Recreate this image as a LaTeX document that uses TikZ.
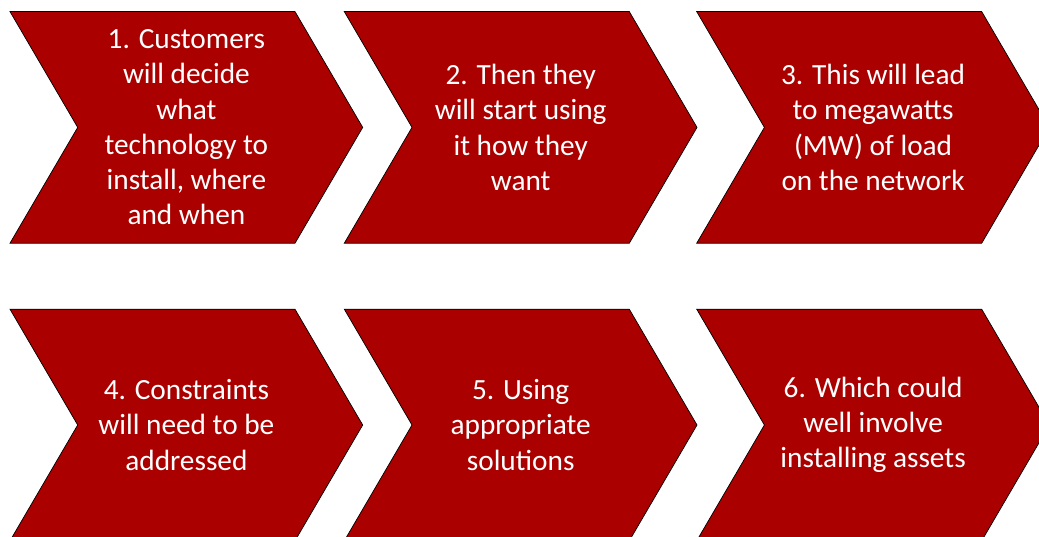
\documentclass[tikz,border=0pt]{standalone}
\usepackage{fontspec}
\setmainfont{Carlito}
\definecolor{chevred}{RGB}{170,0,0}
\begin{document}
\begin{tikzpicture}[x=1pt,y=-1pt,
  chevfill/.style={fill=chevred,draw=black,line width=0.7pt,line join=miter},
  steptext/.style={text=white,align=center,inner sep=0pt,
    font=\fontsize{29.3}{35.2}\selectfont},
  chevron/.pic={
    \path[chevfill] (0,-115.8) -- (285,-115.8) -- (352.7,0) -- (285,115.8)
      -- (0,115.8) -- (67.7,0) -- cycle;
  }]
\useasboundingbox (0,0) rectangle (1039,537);
\clip (0,0) rectangle (1039,537);

% upper row
\pic at (10,127.4) {chevron};
\pic at (344.3,127.4) {chevron};
\pic at (696.7,127.4) {chevron};
% lower row
\pic at (10,425) {chevron};
\pic at (344.3,425) {chevron};
\pic at (696.7,425) {chevron};

\node[steptext] (s1) at (186.4,127.4) {1. Customers\\will decide\\what\\technology to\\install, where\\and when};
\node[steptext] (s2) at (520.7,127.4) {2. Then they\\will start using\\it how they\\want};
\node[steptext] (s3) at (873.1,127.4) {3. This will lead\\to megawatts\\(MW) of load\\on the network};
\node[steptext] (s4) at (186.4,425) {4. Constraints\\will need to be\\addressed};
\node[steptext] (s5) at (520.7,425) {5. Using\\appropriate\\solutions};
\node[steptext] (s6) at (873.1,425) {6. Which could\\well involve\\installing assets};
\end{tikzpicture}
\end{document}
